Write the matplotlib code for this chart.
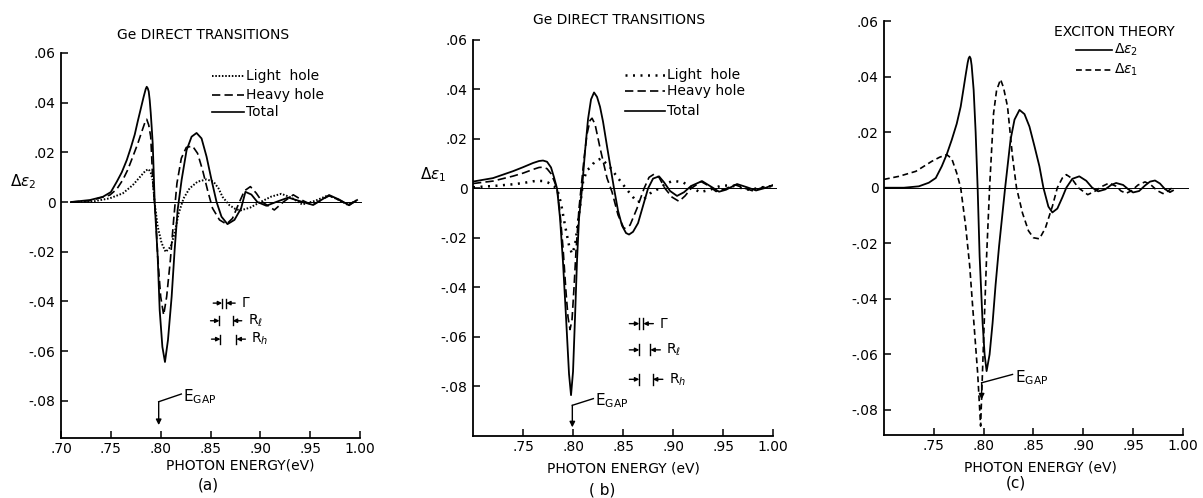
import matplotlib
matplotlib.use("Agg")
import matplotlib.pyplot as plt

plt.rcParams["font.family"] = ["DejaVu Sans"]
plt.rcParams["mathtext.fontset"] = "dejavusans"

# ---------------- (a) Ge direct transitions, delta eps2 ----------------
a_total_E = [0.710, 0.729, 0.742, 0.750, 0.756, 0.761, 0.766, 0.770, 0.774, 0.777, 0.780, 0.783,
             0.785, 0.786, 0.787, 0.788, 0.789, 0.790, 0.791, 0.792, 0.793, 0.794, 0.797, 0.799,
             0.8017, 0.8043, 0.8073, 0.811, 0.814, 0.817,
             0.821, 0.826, 0.831, 0.836, 0.841, 0.846, 0.851, 0.856, 0.861, 0.867, 0.874, 0.8807,
             0.885, 0.891, 0.897, 0.906, 0.917, 0.928, 0.940, 0.953, 0.961, 0.969, 0.979, 0.989, 0.997]
a_total_V = [0.0000, 0.0008, 0.0021, 0.0040, 0.0082, 0.0120, 0.0169, 0.0218, 0.0272, 0.0325, 0.0375, 0.0425,
             0.0455, 0.0464, 0.0458, 0.0445, 0.0410, 0.0360, 0.0300, 0.0236, 0.0120, -0.0005, -0.0220, -0.0435,
             -0.0583, -0.0644, -0.0556, -0.0381, -0.0193, -0.0032,
             0.0089, 0.0209, 0.0263, 0.0278, 0.0256, 0.0183, 0.0089, 0.0001, -0.0059, -0.0089, -0.0072, -0.0025,
             0.0041, 0.0030, 0.0000, -0.0015, 0.0002, 0.0018, 0.0003, -0.0012, 0.0008, 0.0028, 0.0010, -0.0013, 0.0008]

a_heavy_E = [0.710, 0.729, 0.749, 0.756, 0.762, 0.767, 0.772, 0.777, 0.781, 0.784, 0.786, 0.788,
             0.790, 0.791, 0.792,
             0.795, 0.797, 0.800, 0.803, 0.806, 0.8097, 0.813, 0.8163, 0.8207, 0.8257, 0.832, 0.837,
             0.842, 0.847, 0.852, 0.859, 0.866, 0.872, 0.879, 0.884, 0.890, 0.896, 0.902, 0.914,
             0.923, 0.933, 0.943, 0.952, 0.961, 0.969, 0.979, 0.989, 0.997]
a_heavy_V = [0.0000, 0.0005, 0.0028, 0.0052, 0.0089, 0.0130, 0.0182, 0.0235, 0.0283, 0.0318, 0.0333, 0.0310,
             0.0263, 0.0180, 0.0089,
             -0.0059, -0.0220, -0.0381, -0.0455, -0.0381, -0.0234, -0.0072, 0.0075, 0.0176, 0.0220, 0.0225, 0.0196,
             0.0129, 0.0048, -0.0025, -0.0072, -0.0089, -0.0066, 0.0000, 0.0045, 0.0062, 0.0035, 0.0000, -0.0032,
             0.0000, 0.0029, 0.0005, -0.0012, 0.0008, 0.0025, 0.0008, -0.0012, 0.0010]

a_light_E = [0.710, 0.729, 0.749, 0.762, 0.772, 0.781, 0.785, 0.788, 0.790, 0.792, 0.794, 0.797, 0.801, 0.805,
             0.810, 0.814, 0.818, 0.823, 0.829, 0.837, 0.846, 0.853, 0.858, 0.862, 0.869, 0.875,
             0.880, 0.890, 0.900, 0.911, 0.921, 0.931, 0.942, 0.955, 0.968, 0.978, 0.988, 0.997]
a_light_V = [0.0000, 0.0000, 0.0015, 0.0035, 0.0068, 0.0109, 0.0127, 0.0132, 0.0118, 0.0089, -0.0005, -0.0099,
             -0.0166, -0.0201,
             -0.0180, -0.0126, -0.0046, 0.0015, 0.0055, 0.0082, 0.0091, 0.0082, 0.0055, 0.0021, -0.0013, -0.0028,
             -0.0034, -0.0022, 0.0000, 0.0022, 0.0033, 0.0018, -0.0010, 0.0005, 0.0027, 0.0010, -0.0012, 0.0008]

# ---------------- (b) Ge direct transitions, delta eps1 ----------------
b_total_E = [0.700, 0.720, 0.730, 0.740, 0.750, 0.760, 0.766, 0.770, 0.774, 0.778, 0.781, 0.784,
             0.787, 0.790, 0.793, 0.796, 0.798, 0.800, 0.802, 0.804, 0.806, 0.809, 0.812, 0.815,
             0.818, 0.821, 0.824, 0.827, 0.830, 0.834, 0.837, 0.841, 0.845, 0.849, 0.853, 0.856,
             0.860, 0.865, 0.870, 0.875, 0.880, 0.886, 0.891, 0.897, 0.904, 0.911, 0.918, 0.929,
             0.939, 0.946, 0.953, 0.964, 0.974, 0.983, 0.992, 1.000]
b_total_V = [0.0028, 0.0042, 0.0056, 0.0070, 0.0086, 0.0103, 0.0111, 0.0113, 0.0108, 0.0085, 0.0045, 0.0000,
             -0.0120, -0.0300, -0.0520, -0.0750, -0.0835, -0.0740, -0.0520, -0.0290, -0.0120, 0.0000, 0.0150, 0.0280,
             0.0360, 0.0388, 0.0370, 0.0330, 0.0270, 0.0170, 0.0097, 0.0000, -0.0090, -0.0150, -0.0180, -0.0186,
             -0.0175, -0.0140, -0.0070, 0.0000, 0.0040, 0.0049, 0.0025, -0.0010, -0.0030, -0.0015, 0.0010, 0.0030,
             0.0005, -0.0013, -0.0005, 0.0018, 0.0005, -0.0008, 0.0002, 0.0014]

b_heavy_E = [0.700, 0.720, 0.730, 0.740, 0.750, 0.760, 0.766, 0.770, 0.774, 0.778, 0.781, 0.784,
             0.787, 0.790, 0.793, 0.795, 0.797, 0.799, 0.801, 0.803, 0.806, 0.808, 0.811, 0.814,
             0.817, 0.819, 0.822, 0.827, 0.834, 0.839, 0.845, 0.851, 0.857, 0.864, 0.871, 0.876,
             0.881, 0.886, 0.892, 0.899, 0.906, 0.912, 0.918, 0.928, 0.936, 0.943, 0.952, 0.962,
             0.971, 0.980, 0.990, 1.000]
b_heavy_V = [0.0020, 0.0030, 0.0040, 0.0050, 0.0062, 0.0077, 0.0085, 0.0086, 0.0080, 0.0060, 0.0032, 0.0000,
             -0.0100, -0.0240, -0.0420, -0.0520, -0.0570, -0.0530, -0.0400, -0.0250, -0.0080, 0.0000, 0.0120, 0.0220,
             0.0275, 0.0284, 0.0260, 0.0164, 0.0042, -0.0014, -0.0107, -0.0162, -0.0148, -0.0080, 0.0000, 0.0045,
             0.0058, 0.0045, 0.0000, -0.0035, -0.0052, -0.0030, 0.0000, 0.0028, 0.0010, -0.0012, -0.0002, 0.0015,
             0.0002, -0.0010, 0.0005, 0.0012]

b_light_E = [0.700, 0.720, 0.740, 0.750, 0.760, 0.765, 0.770, 0.775, 0.780, 0.784, 0.788, 0.792,
             0.796, 0.799, 0.802, 0.805, 0.808, 0.810, 0.814, 0.817, 0.822, 0.828, 0.837, 0.845,
             0.854, 0.864, 0.869, 0.877, 0.886, 0.893, 0.900, 0.910, 0.918, 0.927, 0.937, 0.947,
             0.957, 0.967, 0.977, 0.987, 1.000]
b_light_V = [0.0005, 0.0010, 0.0017, 0.0022, 0.0029, 0.0031, 0.0030, 0.0024, 0.0012, 0.0000, -0.0060, -0.0150,
             -0.0230, -0.0264, -0.0230, -0.0134, -0.0040, 0.0027, 0.0075, 0.0083, 0.0110, 0.0121, 0.0086, 0.0042,
             -0.0005, -0.0055, -0.0050, -0.0020, 0.0000, 0.0020, 0.0031, 0.0025, 0.0005, -0.0015, -0.0005, 0.0010,
             0.0013, 0.0003, -0.0006, 0.0004, 0.0010]

# ---------------- (c) exciton theory ----------------
c_eps2_E = [0.700, 0.720, 0.735, 0.745, 0.752, 0.758, 0.763, 0.768, 0.773, 0.777, 0.780, 0.782,
            0.784, 0.785, 0.786, 0.787, 0.788, 0.790, 0.792, 0.794, 0.796, 0.799, 0.801, 0.803, 0.806, 0.809,
            0.812, 0.8155, 0.8216, 0.827, 0.831, 0.836, 0.841, 0.846, 0.851, 0.856, 0.860, 0.865,
            0.869, 0.874, 0.879, 0.883, 0.889, 0.896, 0.903, 0.909, 0.915, 0.922, 0.928, 0.933,
            0.940, 0.945, 0.950, 0.956, 0.962, 0.967, 0.972, 0.977, 0.982, 0.987, 0.990]
c_eps2_V = [0.0000, 0.0000, 0.0005, 0.0018, 0.0035, 0.0077, 0.0120, 0.0172, 0.0230, 0.0292, 0.0360, 0.0406,
            0.0450, 0.0466, 0.0472, 0.0465, 0.0440, 0.0352, 0.0200, 0.0000, -0.0247, -0.0487, -0.0600, -0.0660,
            -0.0600, -0.0487,
            -0.0350, -0.0211, 0.0000, 0.0172, 0.0245, 0.0280, 0.0265, 0.0220, 0.0150, 0.0077, 0.0000, -0.0068,
            -0.0089, -0.0075, -0.0035, 0.0000, 0.0032, 0.0041, 0.0025, 0.0000, -0.0013, -0.0006, 0.0010, 0.0017,
            0.0010, -0.0005, -0.0017, -0.0012, 0.0008, 0.0022, 0.0026, 0.0015, -0.0005, -0.0016, -0.0010]

c_eps1_E = [0.700, 0.715, 0.732, 0.748, 0.756, 0.763, 0.768, 0.773, 0.777, 0.782, 0.786, 0.789,
            0.794, 0.797, 0.800, 0.803, 0.806, 0.810, 0.813, 0.817, 0.820, 0.824, 0.829, 0.833,
            0.839, 0.845, 0.850, 0.856, 0.862, 0.869, 0.874, 0.879, 0.883, 0.888, 0.895, 0.9045,
            0.912, 0.919, 0.926, 0.933, 0.938, 0.943, 0.948, 0.955, 0.962, 0.968, 0.974, 0.980,
            0.985, 0.990]
c_eps1_V = [0.0030, 0.0041, 0.0059, 0.0095, 0.0110, 0.0119, 0.0105, 0.0053, 0.0000, -0.0139, -0.0280, -0.0427,
            -0.0666, -0.0858, -0.0546, -0.0247, 0.0000, 0.0268, 0.0350, 0.0390, 0.0360, 0.0292, 0.0112, 0.0000,
            -0.0091, -0.0155, -0.0180, -0.0184, -0.0145, -0.0067, 0.0000, 0.0035, 0.0047, 0.0035, 0.0000, -0.0025,
            -0.0012, 0.0005, 0.0017, 0.0005, -0.0012, -0.0020, -0.0012, 0.0010, 0.0021, 0.0010, -0.0010, -0.0021,
            -0.0012, 0.0002]

y_ticks = [0.06, 0.04, 0.02, 0.0, -0.02, -0.04, -0.06, -0.08]
y_tick_labels = [".06", ".04", ".02", "0", "-.02", "-.04", "-.06", "-.08"]
x_ticks_a = [0.70, 0.75, 0.80, 0.85, 0.90, 0.95, 1.00]
x_tick_labels_a = [".70", ".75", ".80", ".85", ".90", ".95", "1.00"]
x_ticks_bc = [0.75, 0.80, 0.85, 0.90, 0.95, 1.00]
x_tick_labels_bc = [".75", ".80", ".85", ".90", ".95", "1.00"]

E_GAP = 0.798
# broadening and Rydberg widths marked on (a) and (b)
widths_a = [("$\\Gamma$", 0.004), ("R$_\\ell$", 0.0133), ("R$_h$", 0.016)]
widths_b = [("$\\Gamma$", 0.004), ("R$_\\ell$", 0.011), ("R$_h$", 0.0135)]

FS = 10
DOT_A = (0, (0.8, 0.9))
DOT_B = (0, (0.8, 2.2))
DASH_A = (0, (5, 2.5))
DASH_C = (0, (3.5, 2.2))

fig = plt.figure(figsize=(12.03, 4.98), dpi=100)
ax_a = fig.add_axes([0.0507, 0.1205, 0.2486, 0.7731])
ax_b = fig.add_axes([0.3932, 0.1245, 0.2494, 0.7952])
ax_c = fig.add_axes([0.7348, 0.1265, 0.2485, 0.8313])


def style_axes(ax, ylim, xt, xtl):
    ax.set_xlim(0.70, 1.00)
    ax.set_ylim(*ylim)
    for s in ("top", "right"):
        ax.spines[s].set_visible(False)
    for s in ("left", "bottom"):
        ax.spines[s].set_linewidth(1.3)
    ax.set_yticks(y_ticks)
    ax.set_yticklabels(y_tick_labels, fontsize=FS)
    ax.set_xticks(xt)
    ax.set_xticklabels(xtl, fontsize=FS)
    ax.tick_params(axis="both", direction="in", length=5, width=1.1, pad=4)
    ax.tick_params(axis="x", pad=3)


def zero_line(ax, x0, x1):
    ax.plot([x0, x1], [0, 0], color="k", lw=0.7, clip_on=False)


def width_marker(ax, x1, w, y, label, arm, h):
    x2 = x1 + w
    for xx in (x1, x2):
        ax.plot([xx, xx], [y - h, y + h], color="k", lw=1.0)
    ap = dict(arrowstyle="-|>", lw=1.0, color="k", mutation_scale=6, shrinkA=0, shrinkB=0)
    ax.annotate("", xy=(x1, y), xytext=(x1 - arm, y), arrowprops=ap)
    ax.annotate("", xy=(x2, y), xytext=(x2 + arm, y), arrowprops=ap)
    ax.text(x2 + arm + 0.006, y, label, fontsize=FS, va="center", ha="left")


def gap_arrow(ax, x, y0, y1, xl, yl):
    ax.annotate("", xy=(x, y1), xytext=(x, y0),
                arrowprops=dict(arrowstyle="-|>", lw=1.0, color="k", mutation_scale=8,
                                shrinkA=0, shrinkB=0))
    ax.plot([x, xl], [y0, yl], color="k", lw=1.0)
    ax.text(xl + 0.002, yl - 0.001, "E$_{\\mathrm{GAP}}$", fontsize=FS + 1, va="center", ha="left")


def legend_row(ax, x0, x1, y, ls, label, lw=1.2):
    ax.plot([x0, x1], [y, y], color="k", lw=lw, linestyle=ls)
    ax.text(x1 + 0.002, y, label, fontsize=FS, va="center", ha="left")


# ---- panel (a)
style_axes(ax_a, (-0.095, 0.06), x_ticks_a, x_tick_labels_a)
zero_line(ax_a, 0.709, 1.001)
ax_a.plot(a_light_E, a_light_V, color="k", lw=1.4, linestyle=DOT_A)
ax_a.plot(a_heavy_E, a_heavy_V, color="k", lw=1.2, linestyle=DASH_A)
ax_a.plot(a_total_E, a_total_V, color="k", lw=1.3)
legend_row(ax_a, 0.851, 0.884, 0.0507, DOT_A, "Light  hole", lw=1.4)
legend_row(ax_a, 0.851, 0.884, 0.0431, DASH_A, "Heavy hole")
legend_row(ax_a, 0.851, 0.884, 0.0362, "-", "Total")
for (lab, w), y, x1 in zip(widths_a, [-0.0407, -0.0478, -0.0552], [0.8617, 0.859, 0.860]):
    width_marker(ax_a, x1, w, y, lab, 0.009, 0.0018)
gap_arrow(ax_a, E_GAP, -0.0804, -0.0898, 0.8207, -0.0773)

# ---- panel (b)
style_axes(ax_b, (-0.100, 0.06), x_ticks_bc, x_tick_labels_bc)
zero_line(ax_b, 0.700, 1.003)
ax_b.plot(b_light_E, b_light_V, color="k", lw=1.8, linestyle=DOT_B)
ax_b.plot(b_heavy_E, b_heavy_V, color="k", lw=1.2, linestyle=DASH_A)
ax_b.plot(b_total_E, b_total_V, color="k", lw=1.3)
legend_row(ax_b, 0.852, 0.892, 0.0457, DOT_B, "Light  hole", lw=1.8)
legend_row(ax_b, 0.852, 0.892, 0.0392, DASH_A, "Heavy hole")
legend_row(ax_b, 0.852, 0.892, 0.0314, "-", "Total")
for (lab, w), y in zip(widths_b, [-0.0546, -0.0652, -0.0771]):
    width_marker(ax_b, 0.8663, w, y, lab, 0.010, 0.0022)
gap_arrow(ax_b, 0.7993, -0.0876, -0.0965, 0.8203, -0.0849)

# ---- panel (c)
style_axes(ax_c, (-0.089, 0.06), x_ticks_bc, x_tick_labels_bc)
zero_line(ax_c, 0.700, 1.005)
ax_c.plot(c_eps1_E, c_eps1_V, color="k", lw=1.2, linestyle=DASH_C)
ax_c.plot(c_eps2_E, c_eps2_V, color="k", lw=1.3)
ax_c.text(0.871, 0.0560, "EXCITON THEORY", fontsize=FS, va="center", ha="left")
legend_row(ax_c, 0.893, 0.929, 0.0496, "-", "$\\Delta\\epsilon_2$")
legend_row(ax_c, 0.893, 0.929, 0.0424, DASH_C, "$\\Delta\\epsilon_1$")
gap_arrow(ax_c, E_GAP, -0.0702, -0.0762, 0.829, -0.0672)

# ---- figure-level labels
fig.text(0.1687, 0.9297, "Ge DIRECT TRANSITIONS", fontsize=FS, ha="center", va="center")
fig.text(0.5146, 0.9600, "Ge DIRECT TRANSITIONS", fontsize=FS, ha="center", va="center")
fig.text(0.0083, 0.6345, "$\\Delta\\epsilon_2$", fontsize=FS + 1, ha="left", va="center")
fig.text(0.3491, 0.6486, "$\\Delta\\epsilon_1$", fontsize=FS + 1, ha="left", va="center")
fig.text(0.1995, 0.0643, "PHOTON ENERGY(eV)", fontsize=FS, ha="center", va="center")
fig.text(0.5179, 0.0602, "PHOTON ENERGY (eV)", fontsize=FS, ha="center", va="center")
fig.text(0.8645, 0.0622, "PHOTON ENERGY (eV)", fontsize=FS, ha="center", va="center")
fig.text(0.1729, 0.0261, "(a)", fontsize=FS + 1, ha="center", va="center")
fig.text(0.5004, 0.0160, "( b)", fontsize=FS + 1, ha="center", va="center")
fig.text(0.8446, 0.0301, "(c)", fontsize=FS + 1, ha="center", va="center")

fig.savefig("out.png", dpi=100)
